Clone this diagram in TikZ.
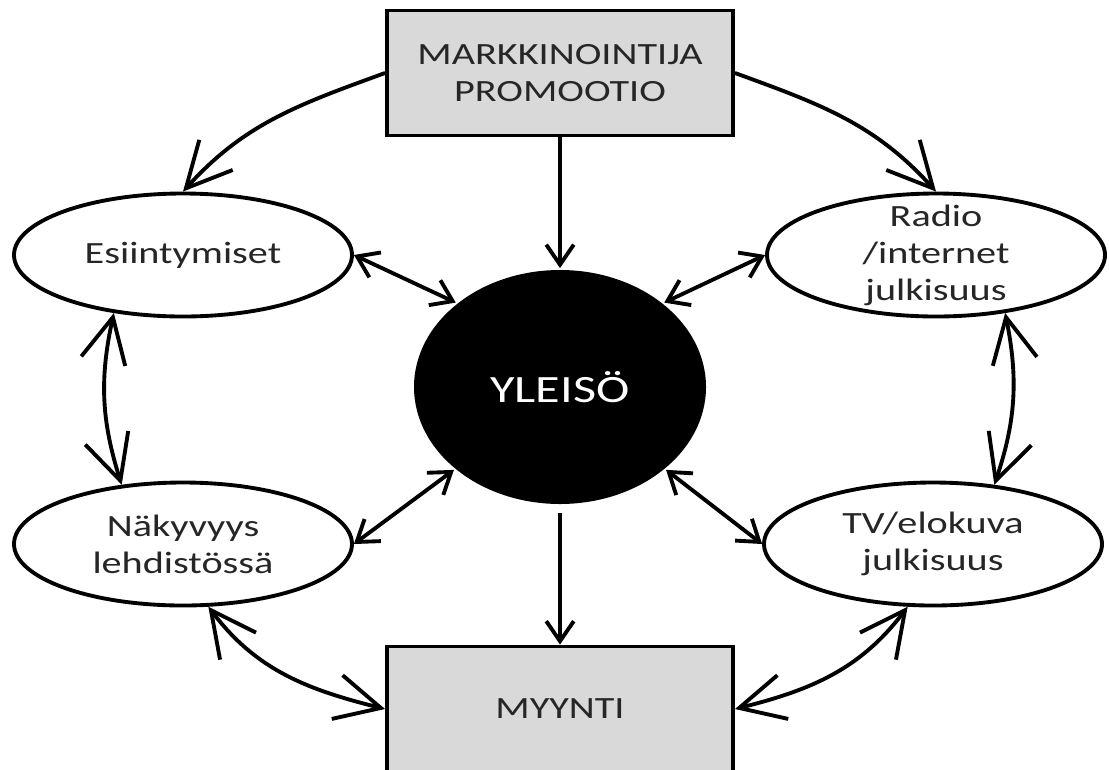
\documentclass[tikz,border=0pt]{standalone}
\usepackage{fontspec}
\setmainfont{Carlito}[FakeStretch=1.3]
\usetikzlibrary{arrows.meta,shapes.geometric}

\begin{document}
\begin{tikzpicture}[
  font=\fontsize{17.6}{21}\selectfont,
  line width=2.2pt,
  >={Straight Barb[length=4mm,width=5.5mm]},
  Wide/.tip={Straight Barb[length=9mm,width=9mm]},
  mainbox/.style={draw,fill=black!15,text=black!85,align=center,
    minimum width=6.92cm,minimum height=2.5cm},
  oval/.style={ellipse,draw,fill=white,text=black!85,align=center,
    minimum width=6.76cm,minimum height=2.46cm,inner ysep=-4mm},
  hub/.style={ellipse,fill=black,text=white,minimum width=5.84cm,
    minimum height=4.68cm,font=\fontsize{22}{26}\selectfont}
]
\useasboundingbox (0,0) rectangle (22.18,-15.38);

\node[hub] (yleiso) at (11.2,-7.74) {YLEISÖ};
\node[mainbox] (markk) at (11.2,-1.46) {MARKKINOINTIJA\\PROMOOTIO};
\node[mainbox] (myynti) at (11.2,-14.18) {MYYNTI};
\node[oval] (esiint) at (3.66,-5.1) {Esiintymiset};
\node[oval] (radio) at (18.72,-5.1) {Radio\\/internet\\julkisuus};
\node[oval] (nakyv) at (3.66,-10.88) {Näkyvyys\\lehdistössä};
\node[oval] (tv) at (18.66,-10.88) {TV/elokuva\\julkisuus};

\draw[->] (markk) -- (yleiso);
\draw[->,shorten <=1.5mm] (yleiso) -- (myynti);
\draw[<->] (esiint.east) -- (yleiso.141);
\draw[<->] (radio.west) -- (yleiso.39);
\draw[<->] (nakyv.east) -- (yleiso.218);
\draw[<->] (tv.west) -- (yleiso.322);

\draw[-Wide] (markk.west) to[out=200,in=48] (esiint.north);
\draw[-Wide] (markk.east) to[out=-20,in=132] (radio.north);
\draw[Wide-Wide] (esiint.220) to[bend right=15] (nakyv.136);
\draw[Wide-Wide] (radio.320) to[bend left=15] (tv.44);
\draw[Wide-Wide] (nakyv.292) to[out=-53,in=166] (myynti.west);
\draw[Wide-Wide] (tv.248) to[out=-127,in=14] (myynti.east);
\end{tikzpicture}
\end{document}
